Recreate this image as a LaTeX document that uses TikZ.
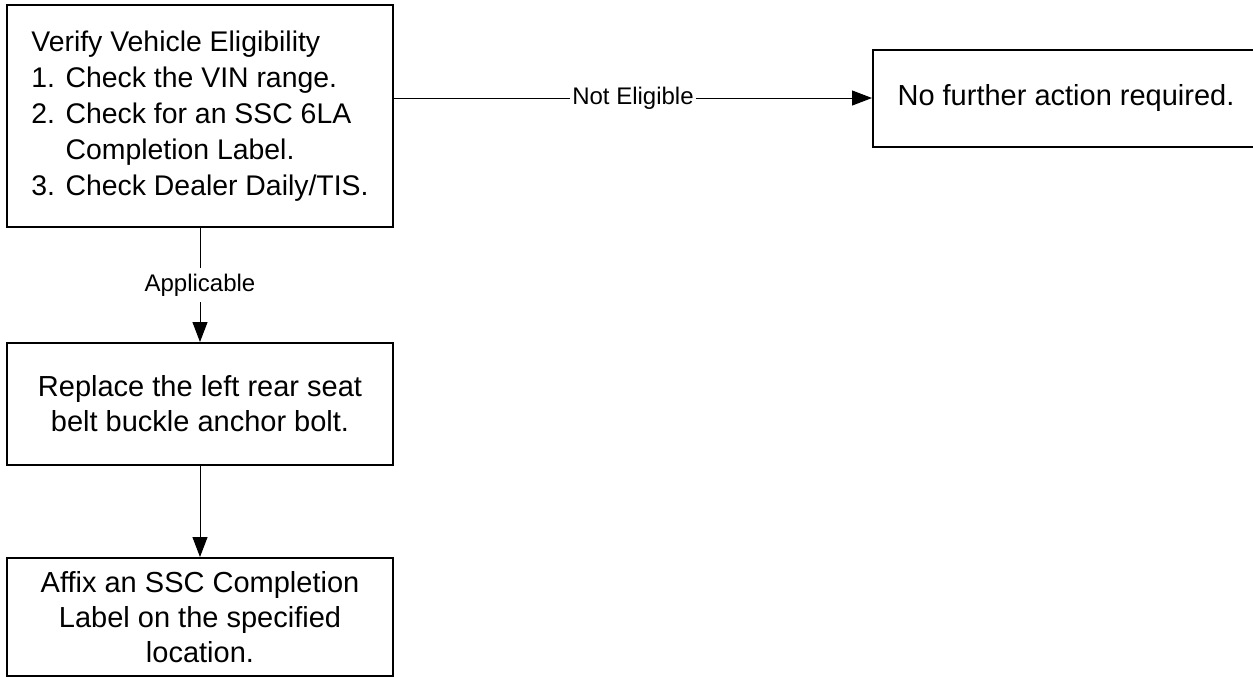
\documentclass[tikz,border=0pt]{standalone}
\usepackage{fontspec}
\setmainfont{Liberation Sans}
\usetikzlibrary{arrows.meta, positioning}

\begin{document}
\begin{tikzpicture}[x=0.5pt, y=-0.5pt,
  box/.style={draw, line width=1pt, minimum width=193pt, inner sep=0pt,
    font=\fontsize{14.5}{17.5}\selectfont},
  flow/.style={-{Triangle[length=10pt,width=7.5pt]}, line width=0.5pt},
  tag/.style={fill=white, inner xsep=1pt, inner ysep=3pt,
    font=\fontsize{12}{14}\selectfont}]
\useasboundingbox (0,0) rectangle (1253,677);
% boxes
\node[box, align=left, minimum height=111pt, font=\fontsize{14.2}{18}\selectfont] (verify) at (200,116)
  {Verify Vehicle Eligibility\\
   1. Check the VIN range.\\
   2. Check for an SSC 6LA\\
   \phantom{2. }Completion Label.\\
   3. Check Dealer Daily/TIS.};
\node[box, align=center, minimum height=48.5pt] (noaction) at (1066,98)
  {No further action required.};
\node[box, align=center, minimum height=61pt] (replace) at (200,404)
  {Replace the left rear seat\\ belt buckle anchor bolt.};
\node[box, align=center, minimum height=59pt] (affix) at (200,617)
  {Affix an SSC Completion\\ Label on the specified\\ location.};
% connectors
\draw[flow] (verify.east |- noaction.west) -- node[tag] {Not Eligible} (noaction.west);
\draw[flow] (verify) -- node[tag] {Applicable} (replace);
\draw[flow] (replace) -- (affix);
\end{tikzpicture}
\end{document}
